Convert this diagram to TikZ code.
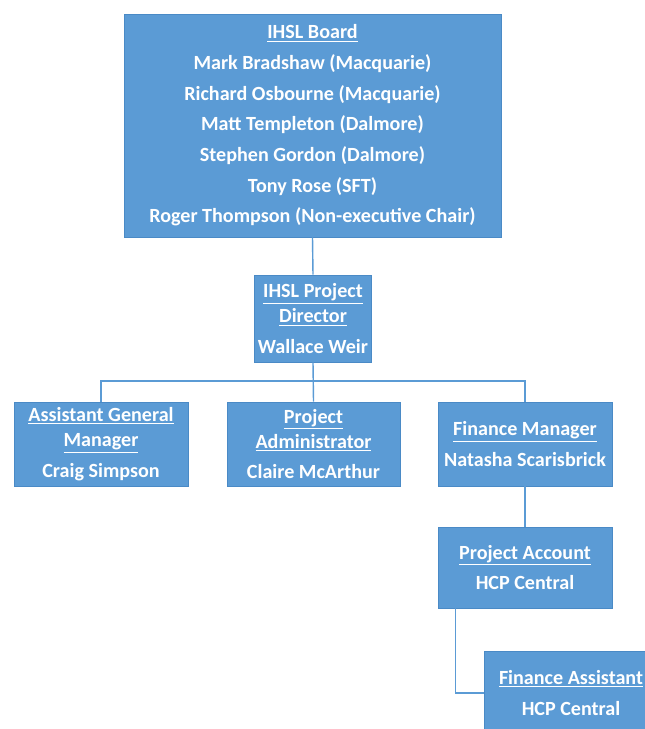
\documentclass[tikz,border=0pt]{standalone}
\usepackage{fontspec}
\setmainfont{Carlito}
\usepackage{tikz}
\definecolor{boxblue}{HTML}{5B9BD5}
\definecolor{edgeblue}{HTML}{4A8AC6}

\begin{document}
\begin{tikzpicture}[x=0.025cm,y=-0.025cm,
            box/.style={fill=boxblue,draw=edgeblue,line width=0.4pt,text=white,align=center,inner sep=0pt,
              font=\bfseries\fontsize{14.3}{17.8}\selectfont},
            link/.style={draw=boxblue,line width=1pt}]
            \useasboundingbox (0,0) rectangle (644,729);
            \node [box,minimum width=9.425cm,minimum height=5.575cm] (board) at (312.5,125.5)
              {\underline{IHSL Board}\\[4pt]Mark Bradshaw (Macquarie)\\[4pt]Richard Osbourne (Macquarie)\\[4pt]Matt Templeton (Dalmore)\\[4pt]Stephen Gordon (Dalmore)\\[4pt]Tony Rose (SFT)\\[4pt]Roger Thompson (Non-executive Chair)};
            \node [box,minimum width=2.925cm,minimum height=2.175cm] (dir) at (313,318.5)
              {\underline{IHSL Project}\\\underline{Director}\\[4pt]Wallace Weir};
            \node [box,minimum width=4.35cm,minimum height=2.1cm] (agm) at (101,444)
              {\underline{Assistant General}\\\underline{Manager}\\[4pt]Craig Simpson};
            \node [box,minimum width=4.325cm,minimum height=2.1cm] (admin) at (313.5,444)
              {\underline{Project}\\\underline{Administrator}\\[4pt]Claire McArthur};
            \node [box,minimum width=4.35cm,minimum height=2.1cm] (fm) at (525,444)
              {\underline{Finance Manager}\\[4pt]Natasha Scarisbrick};
            \node [box,minimum width=4.35cm,minimum height=2.025cm] (acct) at (525,567.5)
              {\underline{Project Account}\\[4pt]HCP Central};
            \node [box,minimum width=4.35cm,minimum height=2.1cm] (asst) at (571,693)
              {\underline{Finance Assistant}\\[4pt]HCP Central};
            \coordinate (bus) at (313,381);
            \draw [link] (board.south) -- (dir.north);
            \draw [link] (dir.south) -- (admin.north);
            \draw [link] (agm.north) |- (bus) -| (fm.north);
            \draw [link] (fm.south) -- (acct.north);
            \draw [link] (acct.south west) ++(18,0) |- (asst.west);
        \end{tikzpicture}
\end{document}
